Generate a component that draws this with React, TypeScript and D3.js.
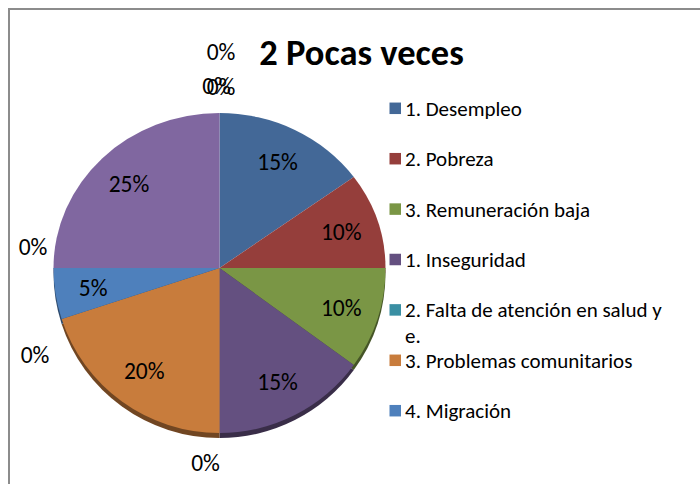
import React from 'react';
import * as d3 from 'd3';

// ---------- data ----------
const title = '2 Pocas veces';
const categories = [
  '1. Desempleo',
  '2. Pobreza',
  '3. Remuneración baja',
  '1. Inseguridad',
  '2. Falta de atención en salud y e.',
  '3. Problemas comunitarios',
  '4. Migración',
  '5. Violencia',
  '6. Drogadicción',
  '7. Otros problemas sociales',
  '1. Contaminación',
  '2. Deforestación',
  '3. Otros',
];
const values = [15, 10, 10, 15, 0, 20, 5, 0, 0, 25, 0, 0, 0];
const colors = [
  '#436897', '#953E3B', '#7A9645', '#645080', '#3A8FA3', '#C87C3C', '#4E80BC',
  '#C26966', '#A5BF6E', '#8067A0', '#5FB3C9', '#F2A160', '#2E4C70',
];
const legendVisible = 7;

// ---------- layout ----------
const W = 700;
const H = 484;
const CX = 219.5;
const CY = 268;
const R = 166;
const K_TOP = 155 / 166;
const K_BOT = 165 / 166;
const LABEL_R = 128;
const ZERO_RX = 185;
const ZERO_RY = 195;
const zeroNudge: Record<number, [number, number]> = {
  4: [-14, 1],
  7: [-1.5, -21],
  8: [0.5, 87],
  10: [-3, 0],
  11: [1.5, 1],
  12: [1.5, -34.5],
};
const FONT = 'Carlito, Lato, "Open Sans", sans-serif';
const LEG_X = 389.5;
const LEG_Y0 = 108.3;
const LEG_STEP = 50.4;
const WRAP_CHARS = 31;

function wrap(s: string): string[] {
  if (s.length <= WRAP_CHARS) return [s];
  const cut = s.lastIndexOf(' ', WRAP_CHARS);
  return [s.slice(0, cut), s.slice(cut + 1)];
}

export default function App() {
  const data = categories.map((c, i) => ({ name: c, value: values[i], color: colors[i], i }));
  const pie = d3.pie<any>().sort(null).value((d) => d.value);
  const arcs = pie(data);
  const arc = d3.arc<any>().innerRadius(0).outerRadius(R);
  const fmt = d3.format('.0%');
  const total = d3.sum(values);

  const slices = (dark: boolean) =>
    arcs
      .filter((a) => a.data.value > 0)
      .map((a) => (
        <path
          key={a.data.i}
          d={arc(a) || ''}
          fill={dark ? d3.color(a.data.color)!.darker(1.6).toString() : a.data.color}
        />
      ));

  const labels = arcs.map((a) => {
    const zero = a.data.value === 0;
    const ang = zero ? a.startAngle : (a.startAngle + a.endAngle) / 2;
    const rx = zero ? ZERO_RX : LABEL_R;
    const ry = zero ? ZERO_RY : LABEL_R;
    let x = Math.sin(ang) * rx;
    let y = -Math.cos(ang) * ry;
    y *= y < 0 ? K_TOP : K_BOT;
    if (zero && zeroNudge[a.data.i]) {
      x += zeroNudge[a.data.i][0];
      y += zeroNudge[a.data.i][1];
    }
    return (
      <text
        key={a.data.i}
        x={x}
        y={y}
        dy="0.36em"
        textAnchor="middle"
        fontFamily={FONT}
        fontSize={23.5}
        fill="#000"
      >
        {fmt(a.data.value / total)}
      </text>
    );
  });

  return (
    <svg
      width={W}
      height={H}
      style={{ position: 'absolute', left: 0, top: 0, background: '#fff' }}
    >
      <defs>
        <clipPath id="topHalf">
          <rect x={-R - 10} y={-R - 10} width={2 * R + 20} height={R + 10.5} />
        </clipPath>
        <clipPath id="botHalf">
          <rect x={-R - 10} y={0} width={2 * R + 20} height={R + 20} />
        </clipPath>
      </defs>
      <rect x={9} y={9} width={W + 20} height={H + 20} fill="#fff" stroke="#8c8c8c" strokeWidth={2} />

      <text
        x={361.5}
        y={65}
        textAnchor="middle"
        fontFamily={FONT}
        fontWeight="bold"
        fontSize={36.5}
        fill="#000"
      >
        {title}
      </text>

      <g transform={`translate(${CX},${CY})`}>
        {/* shadow */}
        <g clipPath="url(#botHalf)">
          <g transform={`translate(0,5) scale(1,${K_BOT})`}>{slices(true)}</g>
        </g>
        <g clipPath="url(#topHalf)">
          <g transform={`scale(1,${K_TOP})`}>{slices(false)}</g>
        </g>
        <g clipPath="url(#botHalf)">
          <g transform={`scale(1,${K_BOT})`}>{slices(false)}</g>
        </g>
        {labels}
      </g>

      <g>
        {data.slice(0, legendVisible).map((d, k) => {
          const cy = LEG_Y0 + k * LEG_STEP;
          const lines = wrap(d.name);
          return (
            <g key={d.i}>
              <rect x={LEG_X} y={cy - 5.75} width={11.5} height={11.5} fill={d.color} />
              <text x={405} y={cy} fontFamily={FONT} fontSize={21} fill="#000">
                {lines.map((ln, j) => (
                  <tspan key={j} x={405} dy={j === 0 ? '0.36em' : 26}>
                    {ln}
                  </tspan>
                ))}
              </text>
            </g>
          );
        })}
      </g>
    </svg>
  );
}
